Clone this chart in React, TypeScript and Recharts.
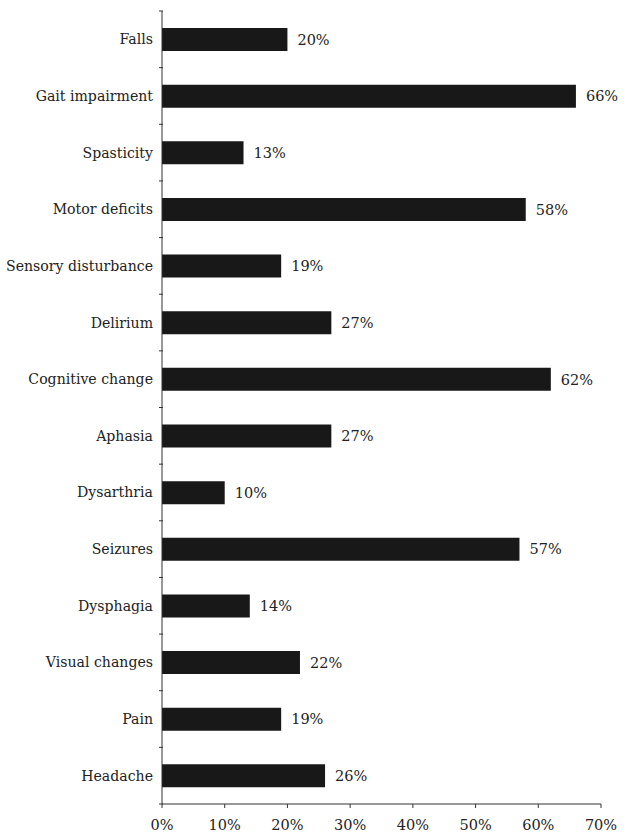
import { Bar, BarChart, XAxis, YAxis, LabelList } from "recharts";

const symptoms = [
  "Falls",
  "Gait impairment",
  "Spasticity",
  "Motor deficits",
  "Sensory disturbance",
  "Delirium",
  "Cognitive change",
  "Aphasia",
  "Dysarthria",
  "Seizures",
  "Dysphagia",
  "Visual changes",
  "Pain",
  "Headache",
];
const percents = [20, 66, 13, 58, 19, 27, 62, 27, 10, 57, 14, 22, 19, 26];
const xTicks = [0, 10, 20, 30, 40, 50, 60, 70];

const data = symptoms.map((name, i) => ({ name, value: percents[i] }));

const W = 634;
const H = 836;
const TOP = 11;
const AXIS_H = 32;
const FONT = "'DejaVu Serif', serif";

function SymptomTick(props: any) {
  const { x, y, payload, index } = props;
  const band = (H - TOP - AXIS_H) / symptoms.length;
  return (
    <g>
      <line x1={x + 5} x2={x + 9} y1={y - band / 2} y2={y - band / 2} stroke="#333" />
      {index === symptoms.length - 1 && (
        <line x1={x + 5} x2={x + 9} y1={y + band / 2} y2={y + band / 2} stroke="#333" />
      )}
      <text x={x - 1} y={y} dy={5} textAnchor="end" fill="#222" fontSize={14.1} fontFamily={FONT}>
        {payload.value}
      </text>
    </g>
  );
}

export default function App() {
  return (
    <div style={{ position: "absolute", left: 0, top: 0, background: "#fff" }}>
      <BarChart
        width={W}
        height={H}
        data={data}
        layout="vertical"
        margin={{ top: TOP, right: 33, bottom: 0, left: 0 }}
      >
        <XAxis
          type="number"
          domain={[0, 70]}
          ticks={xTicks}
          tickFormatter={(v) => `${v}%`}
          height={AXIS_H}
          stroke="#333"
          tickSize={4}
          tickMargin={12}
          tick={{ fill: "#222", fontSize: 14.5, fontFamily: FONT }}
          interval={0}
        />
        <YAxis
          type="category"
          dataKey="name"
          width={162}
          stroke="#333"
          tickLine={false}
          tick={<SymptomTick />}
          interval={0}
        />
        <Bar dataKey="value" fill="#181818" barSize={23} isAnimationActive={false}>
          <LabelList
            dataKey="value"
            position="right"
            offset={10}
            formatter={(v: any) => `${v}%`}
            style={{ fill: "#222", fontSize: 14.5, fontFamily: FONT }}
          />
        </Bar>
      </BarChart>
    </div>
  );
}
